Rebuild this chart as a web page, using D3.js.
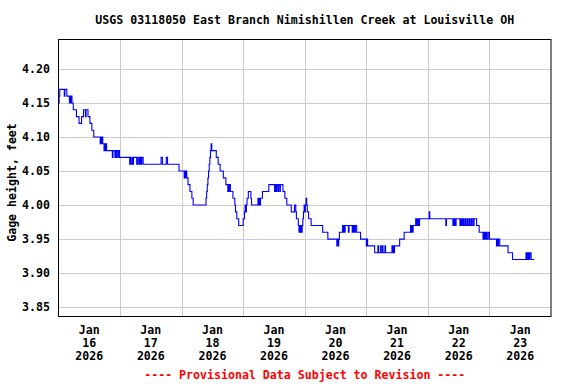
<!DOCTYPE html>
<html>
<head>
<meta charset="utf-8">
<script src="https://cdn.jsdelivr.net/npm/d3@7"></script>
<style>
  body { margin: 0; background: #fff; }
  svg text { font-family: "DejaVu Sans Mono", monospace; font-weight: bold; font-size: 11.6px; }
</style>
</head>
<body>
<script>
// Gage height readings, step changes (hours after Jan 16 2026 00:00)
const hours = [
  0, 0.25, 0.5, 2.25, 2.5, 3.25, 4.25, 4.5, 4.75, 5.0, 5.25, 5.75, 7.0, 8.0, 9.0, 9.75, 10.5, 10.75, 11.5, 12.25, 13.0, 13.75,
  16.25, 16.5, 16.75, 17.0, 17.25, 17.75, 18.0, 18.25, 18.5, 18.75, 21.0, 21.25, 22.0, 22.25, 22.5, 22.75, 23.25, 23.5, 23.75,
  27.75, 28.0, 28.25, 28.75, 29.0, 29.25, 30.5, 30.75, 31.0, 31.5, 31.75, 32.0, 32.25, 32.5, 33.0, 40.0, 40.5, 42.0, 42.5, 47.0,
  49.0, 49.25, 49.5, 49.75, 50.0, 50.5, 51.25, 52.0, 52.5,
  57.5, 57.75, 58.0, 58.25, 58.5, 58.75, 59.0, 59.25, 59.5, 59.75,
  61.5, 62.25, 63.0, 64.25, 65.25, 66.0, 66.25, 66.5, 66.75, 67.0,
  68.0, 68.75, 69.0, 69.5, 70.25, 72.0, 72.5, 72.75, 73.0, 73.25, 73.5, 74.0, 75.0, 75.25,
  77.75, 78.0, 78.25, 78.5, 78.75, 79.5, 82.0, 84.25, 84.5, 84.75, 85.0, 85.5, 85.75, 86.25, 86.5,
  87.5, 88.25, 89.0, 90.75, 92.0, 92.5, 92.75, 93.5, 93.75, 94.0, 94.25, 94.5, 94.75, 95.0,
  95.25, 95.5, 95.75, 96.0, 96.25, 96.5, 96.75, 97.0, 97.5, 98.5, 103.0, 105.0,
  108.5, 108.75, 109.0, 109.25, 109.5,
  110.75, 111.0, 111.25, 111.5, 111.75, 113.0, 113.25,
  114.5, 114.75, 115.0, 115.25, 115.5, 115.75, 116.25, 117.75, 120.0, 120.25, 120.5, 123.25,
  124.5, 124.75, 125.5, 125.75, 126.25, 126.5, 127.25, 127.5,
  130.0, 130.25, 130.5, 130.75, 131.0, 133.0, 134.75,
  137.25, 137.5, 137.75, 138.0, 138.25, 139.25, 139.5, 139.75, 140.0, 140.25, 140.5, 140.75,
  144.5, 144.75, 151.0, 151.25, 153.75, 154.0, 154.25, 154.5, 154.75, 155.0, 156.5, 156.75,
  157.0, 157.25, 157.5, 157.75, 158.0, 158.5, 158.75, 159.25, 159.5, 160.0, 160.25, 160.5,
  161.0, 161.25, 161.75, 162.0, 163.0, 164.0,
  165.5, 165.75, 166.0, 166.25, 166.5, 166.75, 167.0, 167.5, 168.0,
  170.75, 171.0, 171.25, 171.5, 172.0, 175.25, 177.0,
  182.25, 182.5, 182.75, 183.0, 183.25, 183.5, 183.75, 184.25, 185.5
];
const gageFeet = [
  4.15, 4.16, 4.17, 4.16, 4.17, 4.16, 4.15, 4.16, 4.15, 4.16, 4.15, 4.14, 4.13, 4.12, 4.13, 4.14, 4.13, 4.14, 4.13, 4.12, 4.11, 4.10,
  4.09, 4.10, 4.09, 4.10, 4.09, 4.08, 4.09, 4.08, 4.09, 4.08, 4.07, 4.08, 4.07, 4.08, 4.07, 4.08, 4.07, 4.08, 4.07,
  4.06, 4.07, 4.06, 4.07, 4.06, 4.07, 4.06, 4.07, 4.06, 4.07, 4.06, 4.07, 4.06, 4.07, 4.06, 4.07, 4.06, 4.07, 4.06, 4.05,
  4.04, 4.05, 4.04, 4.05, 4.04, 4.03, 4.02, 4.01, 4.00,
  4.01, 4.02, 4.03, 4.04, 4.05, 4.06, 4.07, 4.08, 4.09, 4.08,
  4.07, 4.06, 4.05, 4.04, 4.03, 4.02, 4.03, 4.02, 4.03, 4.02,
  4.01, 4.00, 3.99, 3.98, 3.97, 3.98, 3.99, 4.00, 3.99, 4.00, 4.01, 4.02, 4.01, 4.00,
  4.01, 4.00, 4.01, 4.00, 4.01, 4.02, 4.03, 4.02, 4.03, 4.02, 4.03, 4.02, 4.03, 4.02, 4.03,
  4.02, 4.01, 4.00, 3.99, 4.00, 3.99, 3.98, 3.97, 3.96, 3.97, 3.96, 3.97, 3.96, 3.97,
  3.98, 3.99, 4.00, 3.99, 4.00, 4.01, 4.00, 3.99, 3.98, 3.97, 3.96, 3.95,
  3.94, 3.95, 3.94, 3.95, 3.96,
  3.97, 3.96, 3.97, 3.96, 3.97, 3.96, 3.97,
  3.96, 3.97, 3.96, 3.97, 3.96, 3.97, 3.96, 3.95, 3.94, 3.95, 3.94, 3.93,
  3.94, 3.93, 3.94, 3.93, 3.94, 3.93, 3.94, 3.93,
  3.94, 3.93, 3.94, 3.93, 3.94, 3.95, 3.96,
  3.97, 3.96, 3.97, 3.96, 3.97, 3.98, 3.97, 3.98, 3.97, 3.98, 3.97, 3.98,
  3.99, 3.98, 3.97, 3.98, 3.97, 3.98, 3.97, 3.98, 3.97, 3.98, 3.97, 3.98,
  3.97, 3.98, 3.97, 3.98, 3.97, 3.98, 3.97, 3.98, 3.97, 3.98, 3.97, 3.98,
  3.97, 3.98, 3.97, 3.98, 3.97, 3.96,
  3.95, 3.96, 3.95, 3.96, 3.95, 3.96, 3.95, 3.96, 3.95,
  3.94, 3.95, 3.94, 3.95, 3.94, 3.93, 3.92,
  3.93, 3.92, 3.93, 3.92, 3.93, 3.92, 3.93, 3.92, 3.92
];

const yTicks = [3.85, 3.90, 3.95, 4.00, 4.05, 4.10, 4.15, 4.20];
const labelDays = [16, 17, 18, 19, 20, 21, 22, 23];
const gridDays = [17, 18, 19, 20, 21, 22, 23];

const titleText = "USGS 03118050 East Branch Nimishillen Creek at Louisville OH";
const yTitle = "Gage height, feet";
const footer = "---- Provisional Data Subject to Revision ----";

// chart frame
const W = 576, H = 384;
const margin = { top: 39, right: 25, bottom: 68, left: 58.5 };

const svg = d3.select("body")
  .append("svg")
  .attr("width", W)
  .attr("height", H);

const day = d => new Date(Date.UTC(2026, 0, d));
const t0 = day(16).getTime();

const x = d3.scaleUtc()
  .domain([day(16), day(24)])
  .range([margin.left, W - margin.right]);

const y = d3.scaleLinear()
  .domain([3.837, 4.244])
  .range([H - margin.bottom, margin.top]);

const data = hours.map((h, i) => ({ date: new Date(t0 + h * 3600e3), v: gageFeet[i] }));

// grid lines
svg.append("g")
  .selectAll("line")
  .data(yTicks)
  .join("line")
  .attr("x1", margin.left)
  .attr("x2", W - margin.right)
  .attr("y1", d => Math.round(y(d)) + 0.5)
  .attr("y2", d => Math.round(y(d)) + 0.5)
  .style("stroke", "#cccccc");

svg.append("g")
  .selectAll("line")
  .data(gridDays)
  .join("line")
  .attr("x1", d => Math.round(x(day(d))) + 0.5)
  .attr("x2", d => Math.round(x(day(d))) + 0.5)
  .attr("y1", margin.top)
  .attr("y2", H - margin.bottom)
  .style("stroke", "#cccccc");

// the gage line
svg.append("path")
  .datum(data)
  .attr("d", d3.line().curve(d3.curveStepAfter).x(d => x(d.date)).y(d => y(d.v)))
  .style("fill", "none")
  .style("stroke", "#0000ff")
  .style("stroke-width", 1.1);

// border
svg.append("rect")
  .attr("x", margin.left)
  .attr("y", margin.top + 0.5)
  .attr("width", W - margin.right - margin.left)
  .attr("height", H - margin.bottom - margin.top)
  .style("fill", "none")
  .style("stroke", "#000");

// y tick labels
svg.append("g")
  .selectAll("text")
  .data(yTicks)
  .join("text")
  .attr("x", 50)
  .attr("y", d => y(d))
  .attr("dy", "0.36em")
  .style("text-anchor", "end")
  .text(d => d.toFixed(2));

// x labels at noon of each day
const xl = svg.append("g")
  .selectAll("text")
  .data(labelDays)
  .join("text")
  .attr("x", d => x(new Date(day(d).getTime() + 12 * 3600e3)))
  .attr("y", 334)
  .style("text-anchor", "middle");
xl.append("tspan").text("Jan");
xl.append("tspan").attr("x", d => x(new Date(day(d).getTime() + 12 * 3600e3))).attr("dy", 13).text(d => d);
xl.append("tspan").attr("x", d => x(new Date(day(d).getTime() + 12 * 3600e3))).attr("dy", 13).text("2026");

// titles
const cx = (margin.left + W - margin.right) / 2;
svg.append("text")
  .attr("x", cx)
  .attr("y", 24)
  .style("text-anchor", "middle")
  .text(titleText);

svg.append("text")
  .attr("transform", `translate(16, ${(margin.top + H - margin.bottom) / 2 + 5}) rotate(-90)`)
  .style("text-anchor", "middle")
  .text(yTitle);

svg.append("text")
  .attr("x", cx)
  .attr("y", 379)
  .style("text-anchor", "middle")
  .style("fill", "#ff0000")
  .text(footer);
</script>
</body>
</html>
